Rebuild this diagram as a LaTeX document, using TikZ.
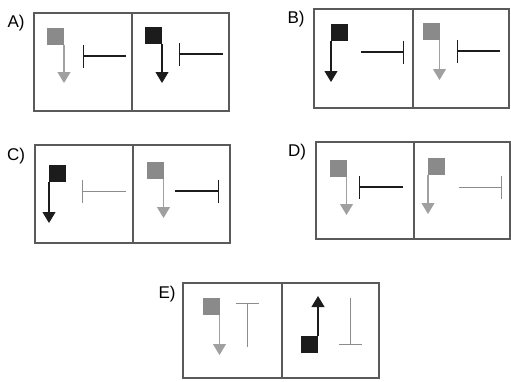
\documentclass[tikz,border=0pt]{standalone}
\usepackage{fontspec}
\setmainfont{Liberation Sans}
\usetikzlibrary{arrows.meta}
\definecolor{sqgray}{HTML}{8A8A8A}
\definecolor{argray}{HTML}{A0A0A0}
\definecolor{ink}{HTML}{1C1C1C}
\definecolor{frame}{HTML}{5A5A5A}
\definecolor{thin}{HTML}{8C8C8C}
\tikzset{
  panel/.style={draw=frame, line width=1.3pt},
  sqbase/.style={rectangle, minimum size=17pt, inner sep=0pt, outer sep=0pt},
  gsq/.style={sqbase, fill=sqgray},
  bsq/.style={sqbase, fill=ink},
  garr/.style={draw=argray, line width=1.1pt, -{Triangle[width=13pt,length=11pt]}},
  barr/.style={draw=ink, line width=1.1pt, -{Triangle[width=13pt,length=11pt]}},
  inh/.style={draw=ink, line width=1.1pt, -{Bar[width=23pt]}},
  ginh/.style={draw=thin, line width=0.8pt, -{Bar[width=23pt]}},
  lbl/.style={font=\fontsize{17}{17}\selectfont, inner sep=0pt}
}
\begin{document}
\begin{tikzpicture}[x=1pt, y=-1pt]
\useasboundingbox (0,0) rectangle (511,381);
% frames
\draw[panel] (34,13) rectangle (229,111); \draw[panel] (132,13) -- (132,111);
\draw[panel] (314,9) rectangle (509,108); \draw[panel] (413,9) -- (413,108);
\draw[panel] (35,145) rectangle (230,243); \draw[panel] (133,145) -- (133,243);
\draw[panel] (316,142) rectangle (510,239); \draw[panel] (414,142) -- (414,239);
\draw[panel] (183,283) rectangle (379,378); \draw[panel] (282,283) -- (282,378);
% labels
\node[lbl] (la) at (16,23) {A)};
\node[lbl] (lb) at (296,19) {B)};
\node[lbl] (lc) at (16,156) {C)};
\node[lbl] (ld) at (297,152) {D)};
\node[lbl] (le) at (167,294) {E)};
% A
\node[gsq] (a1) at (55.5,36.5) {};
\coordinate (a1t) at (64,83);
\draw[garr] (a1.south east) -- (a1t);
\coordinate (a1s) at (126,56); \coordinate (a1e) at (83,56);
\draw[inh] (a1s) -- (a1e);
\node[bsq] (a2) at (153.5,35) {};
\coordinate (a2t) at (162,83);
\draw[barr] (a2.south east) -- (a2t);
\coordinate (a2s) at (223,54); \coordinate (a2e) at (179,54);
\draw[inh] (a2s) -- (a2e);
% B
\node[bsq] (b1) at (339.5,32) {};
\coordinate (b1t) at (331,82);
\draw[barr] (b1.south west) -- (b1t);
\coordinate (b1s) at (361,52); \coordinate (b1e) at (404,52);
\draw[inh] (b1s) -- (b1e);
\node[gsq] (b2) at (431,31) {};
\coordinate (b2t) at (439.5,80);
\draw[garr] (b2.south east) -- (b2t);
\coordinate (b2s) at (500,51); \coordinate (b2e) at (457,51);
\draw[inh] (b2s) -- (b2e);
% C
\node[bsq] (c1) at (57.5,173.5) {};
\coordinate (c1t) at (49,223);
\draw[barr] (c1.south west) -- (c1t);
\coordinate (c1s) at (126,191); \coordinate (c1e) at (82,191);
\draw[ginh] (c1s) -- (c1e);
\node[gsq] (c2) at (155,170.5) {};
\coordinate (c2t) at (163.5,218);
\draw[garr] (c2.south east) -- (c2t);
\coordinate (c2s) at (175,191); \coordinate (c2e) at (219,191);
\draw[inh] (c2s) -- (c2e);
% D
\node[gsq] (d1) at (338,168) {};
\coordinate (d1t) at (346.5,215);
\draw[garr] (d1.south east) -- (d1t);
\coordinate (d1s) at (403,187); \coordinate (d1e) at (359,187);
\draw[inh] (d1s) -- (d1e);
\node[gsq] (d2) at (436.5,166.5) {};
\coordinate (d2t) at (428,214);
\draw[garr] (d2.south west) -- (d2t);
\coordinate (d2s) at (459,187); \coordinate (d2e) at (502,187);
\draw[ginh] (d2s) -- (d2e);
% E
\node[gsq] (e1) at (211,306.5) {};
\coordinate (e1t) at (219.5,355);
\draw[garr] (e1.south east) -- (e1t);
\coordinate (e1s) at (247,347); \coordinate (e1e) at (247,303);
\draw[ginh] (e1s) -- (e1e);
\node[bsq] (e2) at (309.5,344.5) {};
\coordinate (e2t) at (318,296);
\draw[barr] (e2.north east) -- (e2t);
\coordinate (e2s) at (350,298); \coordinate (e2e) at (350,345);
\draw[ginh] (e2s) -- (e2e);
\end{tikzpicture}
\end{document}
